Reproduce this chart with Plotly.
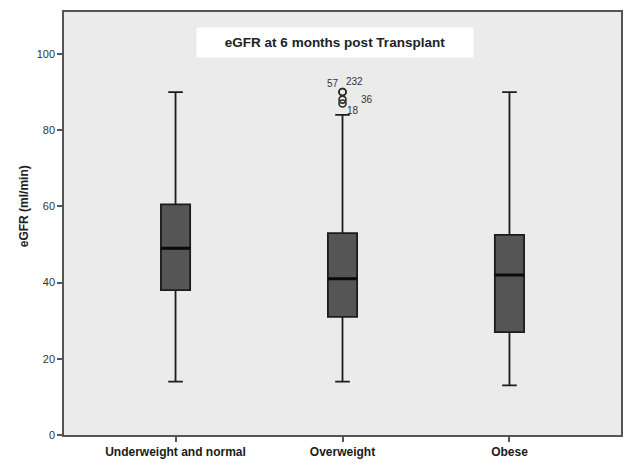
import plotly.graph_objects as go

categories = ["Underweight and normal", "Overweight", "Obese"]
lower_fence = [14, 14, 13]
q1 = [38, 31, 27]
median = [49, 41, 42]
q3 = [60.5, 53, 52.5]
upper_fence = [90, 84, 90]

outlier_cat = ["Overweight", "Overweight", "Overweight", "Overweight"]
outlier_val = [90, 90, 88, 87]
outlier_lab = ["57", "232", "36", "18"]
label_shift_x = [-10, 12, 24, 10]
label_shift_y = [9, 11, 0, -7]

yticks = [0, 20, 40, 60, 80, 100]

FONT = "Liberation Sans, Arial, sans-serif"

fig = go.Figure()
fig.add_trace(go.Box(
    x=categories, q1=q1, median=median, q3=q3,
    lowerfence=lower_fence, upperfence=upper_fence,
    boxpoints=False,
    fillcolor="#555555",
    line=dict(color="#1c1c1c", width=1.8),
    whiskerwidth=0.5,
    showlegend=False,
    hoverinfo="skip",
))
# thicker median bars (SPSS style)
fig.add_trace(go.Box(
    x=categories, q1=median, median=median, q3=median,
    lowerfence=median, upperfence=median,
    boxpoints=False,
    fillcolor="rgba(0,0,0,0)",
    line=dict(color="#0a0a0a", width=3),
    whiskerwidth=0,
    showlegend=False,
    hoverinfo="skip",
))
fig.add_trace(go.Scatter(
    x=outlier_cat, y=outlier_val, mode="markers",
    marker=dict(symbol="circle-open", size=7, color="#2a2a2a", line=dict(width=1.6, color="#2a2a2a")),
    showlegend=False,
))
for c, v, lab, dx, dy in zip(outlier_cat, outlier_val, outlier_lab, label_shift_x, label_shift_y):
    fig.add_annotation(x=c, y=v, text=lab, showarrow=False, xshift=dx, yshift=dy,
                       font=dict(family=FONT, size=10, color="#333333"))

fig.add_annotation(
    xref="paper", yref="paper", x=0.487, y=0.927, xanchor="center", yanchor="middle",
    text="<b>eGFR at 6 months post Transplant</b>", showarrow=False,
    font=dict(family=FONT, size=13.5, color="#222222"),
    bgcolor="white", borderpad=7, width=262,
)
fig.add_annotation(
    xref="paper", yref="paper", x=-0.0716, y=0.541, xanchor="center", yanchor="middle",
    text="<b>eGFR (ml/min)</b>", showarrow=False, textangle=-90,
    font=dict(family=FONT, size=12, color="#222222"),
)

fig.update_layout(
    width=629, height=465,
    margin=dict(l=64, r=6, t=12, b=28),
    paper_bgcolor="white",
    plot_bgcolor="#ebebeb",
    boxgap=0.75,
    boxmode="overlay",
    font=dict(family=FONT, color="#333333"),
)
fig.update_xaxes(
    type="category", range=[-0.668, 2.668],
    showgrid=False, zeroline=False,
    showline=True, linecolor="#555555", linewidth=1.5, mirror=True,
    ticks="outside", ticklen=5, tickcolor="#555555", tickwidth=1.5,
    tickfont=dict(family=FONT, size=12, color="#1a1a1a"),
    ticktext=["<b>%s</b>" % c for c in categories], tickvals=categories,
)
fig.update_yaxes(
    range=[0, 111], tickvals=yticks,
    showgrid=False, zeroline=False,
    showline=True, linecolor="#555555", linewidth=1.5, mirror=True,
    ticks="outside", ticklen=5, tickcolor="#555555", tickwidth=1.5,
    tickfont=dict(family=FONT, size=11, color="#333333"),
)

fig.write_html("out.html")
